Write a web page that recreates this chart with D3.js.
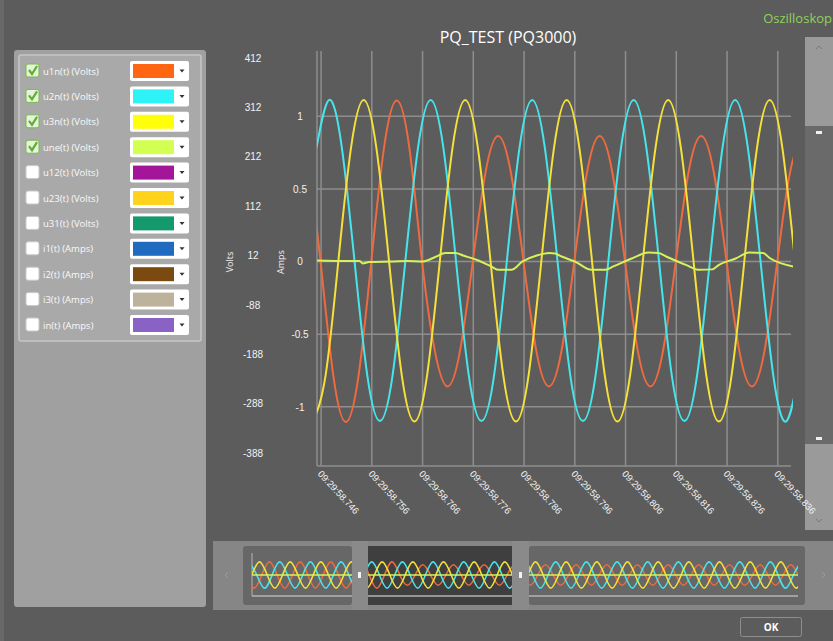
<!DOCTYPE html>
<html>
<head>
<meta charset="utf-8">
<script src="https://cdn.jsdelivr.net/npm/d3@7"></script>
<style>
body { margin: 0; background: #5c5c5c; overflow: hidden }
svg { display: block; font-family: "Open Sans", "Segoe UI", sans-serif }
</style>
</head>
<body>
<svg id="chart" width="833" height="641"></svg>
<script>
// legend entries
let legendNames = ['u1n(t) (Volts)', 'u2n(t) (Volts)', 'u3n(t) (Volts)', 'une(t) (Volts)', 'u12(t) (Volts)',
    'u23(t) (Volts)', 'u31(t) (Volts)', 'i1(t) (Amps)', 'i2(t) (Amps)', 'i3(t) (Amps)', 'in(t) (Amps)']
let legendColors = ['#ff6614', '#2ef3f6', '#ffff0a', '#d3ff52', '#a3169a', '#ffd21c', '#14996c',
    '#1f6bbf', '#7a4a10', '#bdb39c', '#8a62c6']
let legendChecked = [true, true, true, true, false, false, false, false, false, false, false]

// axes
let xTickTimes = [746, 756, 766, 776, 786, 796, 806, 816, 826, 836]
let xTickLabels = ['09:29:58.746', '09:29:58.756', '09:29:58.766', '09:29:58.776', '09:29:58.786',
    '09:29:58.796', '09:29:58.806', '09:29:58.816', '09:29:58.826', '09:29:58.836']
let voltTicks = [412, 312, 212, 112, 12, -88, -188, -288, -388]
let ampTicks = [1, 0.5, 0, -0.5, -1]

// samples (ms after 09:29:58, volts), one every 2.5 ms
let sampleStep = 2.5
let u1nStart = 743.4
let u1nValues = [230, 0, -230, -325, -230, 0, 230, 326, 230, 0,
    -180, -253, -180, 0, 180, 254, 180, 0, -180, -253,
    -180, 0, 180, 254, 180, 0, -180, -253, -180, 0,
    180, 254, 180, 0, -180, -253, -180, 0, 180, 254]
let u2nStart = 745.1
let u2nValues = [230, 327, 230, 0, -230, -323, -230, 0,
    230, 327, 230, 0, -230, -323, -230, 0,
    230, 327, 230, 0, -230, -323, -230, 0,
    230, 327, 230, 0, -230, -323, -230, 0,
    230, 327, 230, 0, -230, -324, -230]
let u3nStart = 744.4
let u3nValues = [-324, -230, 0, 230, 327, 230, 0, -230,
    -324, -230, 0, 230, 327, 230, 0, -230,
    -324, -230, 0, 230, 327, 230, 0, -230,
    -324, -230, 0, 230, 327, 230, 0, -230,
    -324, -230, 0, 230, 327, 230, 0]
let uneTimes = [745, 750, 753.6, 754.2, 755.5, 760, 763, 766, 768.5, 770.5, 772.5, 774, 777, 779.5,
    781, 783.5, 785.7, 788.5, 791, 792.1, 793.4, 796, 799.3, 801.9, 803.6, 807.2, 810.5, 812.5, 814,
    817.9, 820.5, 823.1, 824.4, 827.7, 830.4, 833.1, 834.4, 839.5]
let uneValues = [2, 1, 1, -4, -1, 0, 1, 0, 9, 17, 17, 12, 2, -10,
    -17, -17, 0, 12, 17, 16, 10, 0, -17, -17, -10, 6, 18, 17, 10,
    -7, -17, -16, -7, 6, 18, 17, 7, -11]

// overview record, one sample every 5 ms
let ovStep = 5
let ovDomain = [669.5, 1025.6]
let u1nOvStart = 665.9
let u1nOvValues = [0, -325, 0, 325, 0, -325, 0, 325, 0, -325, 0, 325, 0, -325, 0, 325, 0, -325, 0, 325,
    0, -254, 0, 254, 0, -254, 0, 254, 0, -254, 0, 254, 0, -254, 0, 254, 0, -254, 0, 254,
    0, -254, 0, 254, 0, -254, 0, 254, 0, -254, 0, 254, 0, -254, 0, 254, 0, -254, 0, 254,
    0, -254, 0, 254, 0, -254, 0, 254, 0, -254, 0, 254, 0, -254]
let u2nOvStart = 667.6
let u2nOvValues = [325, 0, -325, 0, 325, 0, -325, 0, 325, 0, -325, 0, 325, 0, -325, 0, 325, 0, -325, 0,
    325, 0, -325, 0, 325, 0, -325, 0, 325, 0, -325, 0, 325, 0, -325, 0, 325, 0, -325, 0,
    325, 0, -325, 0, 325, 0, -325, 0, 325, 0, -325, 0, 325, 0, -325, 0, 325, 0, -325, 0,
    325, 0, -325, 0, 325, 0, -325, 0, 325, 0, -325, 0, 325]
let u3nOvStart = 669.4
let u3nOvValues = [0, 325, 0, -325, 0, 325, 0, -325, 0, 325, 0, -325, 0, 325, 0, -325, 0, 325, 0, -325,
    0, 325, 0, -325, 0, 325, 0, -325, 0, 325, 0, -325, 0, 325, 0, -325, 0, 325, 0, -325,
    0, 325, 0, -325, 0, 325, 0, -325, 0, 325, 0, -325, 0, 325, 0, -325, 0, 325, 0, -325,
    0, 325, 0, -325, 0, 325, 0, -325, 0, 325, 0, -325, 0]
let uneOvTimes = [669.5, 766, 1025.6]
let uneOvValues = [1, 0, 0]

let lineColors = ['#ef6a3e', '#46e5ec', '#f6e03a', '#d4f25a']

function toPoints(start, step, values) {
    return values.map((v, i) => ({ t: start + i * step, v: v }))
}

let svg = d3.select('#chart')

// background
svg.append('rect').attr('width', 833).attr('height', 641).attr('fill', '#5c5c5c')
svg.append('rect').attr('width', 4).attr('height', 641).attr('fill', '#686868')

svg.append('text').attr('x', 508).attr('y', 43).attr('text-anchor', 'middle')
    .attr('font-size', 16).attr('fill', '#ffffff').text('PQ_TEST (PQ3000)')
svg.append('text').attr('x', 832).attr('y', 23).attr('text-anchor', 'end')
    .attr('font-size', 13).attr('fill', '#8fd25a').text('Oszilloskop')

// left panel with legend
svg.append('rect').attr('x', 14).attr('y', 50).attr('width', 192).attr('height', 557)
    .attr('rx', 3).attr('fill', '#a0a0a0')
svg.append('rect').attr('x', 19).attr('y', 55).attr('width', 182).attr('height', 286)
    .attr('rx', 2).attr('fill', '#a9a9a9').attr('stroke', '#c6c6c6').attr('stroke-width', 1.5)

let rows = svg.append('g').selectAll('g.row')
    .data(legendNames)
    .enter().append('g')
    .attr('class', 'row')
    .attr('transform', (d, i) => 'translate(0,' + (71 + i * 25.4) + ')')

rows.append('rect').attr('x', 26).attr('y', -7).attr('width', 13).attr('height', 13).attr('rx', 2)
    .attr('fill', (d, i) => legendChecked[i] ? '#e6f3dc' : '#ffffff')
    .attr('stroke', (d, i) => legendChecked[i] ? '#78b94c' : '#c9c9c9')
rows.filter((d, i) => legendChecked[i]).append('path')
    .attr('d', 'M29,-1 L32,3 L37,-5')
    .attr('fill', 'none').attr('stroke', '#5fae32').attr('stroke-width', 2.2)
rows.append('text').attr('x', 43).attr('y', 3.5).attr('font-size', 9.5).attr('fill', '#fafafa')
    .text(d => d)
rows.append('rect').attr('x', 130).attr('y', -10).attr('width', 59).attr('height', 20).attr('rx', 2)
    .attr('fill', '#ffffff')
rows.append('rect').attr('x', 133).attr('y', -7).attr('width', 41).attr('height', 14)
    .attr('fill', (d, i) => legendColors[i])
rows.append('path').attr('d', 'M179.5,-1.5 L184.5,-1.5 L182,1.5 Z').attr('fill', '#333')

// scales
let x = d3.scaleLinear().domain([745.2, 838.6]).range([317, 791])
let yV = d3.scaleLinear().domain([-414, 424]).range([466, 52])
let yA = d3.scaleLinear().domain([-1.407, 1.442]).range([466, 52])

// grid
let grid = svg.append('g').attr('stroke', '#8e8e8e').attr('stroke-width', 1.5)
grid.append('line').attr('x1', 317).attr('x2', 317).attr('y1', 51).attr('y2', 466)
grid.selectAll('line.v').data(xTickTimes).enter().append('line').attr('class', 'v')
    .attr('x1', d => x(d)).attr('x2', d => x(d)).attr('y1', 51).attr('y2', 466)
grid.selectAll('line.h').data(ampTicks).enter().append('line').attr('class', 'h')
    .attr('x1', 317).attr('x2', 791).attr('y1', d => yA(d)).attr('y2', d => yA(d))
grid.append('line').attr('x1', 317).attr('x2', 791).attr('y1', 466).attr('y2', 466)

// y axes
let voltAxis = svg.append('g').attr('transform', 'translate(253,0)')
    .call(d3.axisLeft(yV).tickValues(voltTicks).tickSize(0).tickPadding(0).tickFormat(d => String(d)))
voltAxis.select('.domain').remove()
voltAxis.selectAll('text').attr('text-anchor', 'middle').attr('fill', '#f2f2f2')
    .attr('font-size', 10).attr('font-family', null)

let ampAxis = svg.append('g').attr('transform', 'translate(300,0)')
    .call(d3.axisLeft(yA).tickValues(ampTicks).tickSize(0).tickPadding(0).tickFormat(d => String(d)))
ampAxis.select('.domain').remove()
ampAxis.selectAll('text').attr('text-anchor', 'middle').attr('fill', '#f2f2f2')
    .attr('font-size', 10).attr('font-family', null)

svg.append('text').attr('transform', 'translate(233,262) rotate(-90)').attr('text-anchor', 'middle')
    .attr('font-size', 9).attr('fill', '#f2f2f2').text('Volts')
svg.append('text').attr('transform', 'translate(284,262) rotate(-90)').attr('text-anchor', 'middle')
    .attr('font-size', 9).attr('fill', '#f2f2f2').text('Amps')

// waveforms
svg.append('clipPath').attr('id', 'plotClip').append('rect')
    .attr('x', 317).attr('y', 40).attr('width', 476).attr('height', 440)

let line = d3.line().x(d => x(d.t)).y(d => yV(d.v)).curve(d3.curveNatural)
let waves = [
    toPoints(u1nStart, sampleStep, u1nValues),
    toPoints(u2nStart, sampleStep, u2nValues),
    toPoints(u3nStart, sampleStep, u3nValues)
]
let waveGroup = svg.append('g').attr('clip-path', 'url(#plotClip)')
waveGroup.selectAll('path.wave').data(waves).enter().append('path')
    .attr('class', 'wave')
    .attr('d', line)
    .attr('fill', 'none')
    .attr('stroke', (d, i) => lineColors[i])
    .attr('stroke-width', 2)
let unePoints = uneTimes.map((t, i) => ({ t: t, v: uneValues[i] }))
waveGroup.append('path')
    .attr('d', d3.line().x(d => x(d.t)).y(d => yV(d.v)).curve(d3.curveMonotoneX)(unePoints))
    .attr('fill', 'none').attr('stroke', lineColors[3]).attr('stroke-width', 2)

// right scrollbar
svg.append('rect').attr('x', 805).attr('y', 37).attr('width', 28).attr('height', 493).attr('fill', '#9a9a9a')
svg.append('rect').attr('x', 805).attr('y', 126).attr('width', 28).attr('height', 318).attr('fill', '#6a6a6a')
svg.append('rect').attr('x', 816).attr('y', 131).attr('width', 6).attr('height', 3).attr('fill', '#f0f0f0')
svg.append('rect').attr('x', 816).attr('y', 437).attr('width', 6).attr('height', 3).attr('fill', '#f0f0f0')
svg.append('path').attr('d', 'M816,49 L819,46 L822,49').attr('fill', 'none').attr('stroke', '#777')
svg.append('path').attr('d', 'M816,519 L819,522 L822,519').attr('fill', 'none').attr('stroke', '#777')

// x axis labels (drawn over the scrollbar, as in the original)
let xAxis = svg.append('g').attr('transform', 'translate(0,466)')
    .call(d3.axisBottom(x).tickValues(xTickTimes).tickSize(0).tickPadding(0)
        .tickFormat((d, i) => xTickLabels[i]))
xAxis.select('.domain').remove()
xAxis.selectAll('text')
    .attr('text-anchor', 'start').attr('fill', '#f2f2f2').attr('font-size', 9.5).attr('font-family', null)
    .attr('y', 0).attr('dy', '0.35em')
    .attr('transform', 'translate(-2,6) rotate(47)')

// overview navigator
svg.append('rect').attr('x', 213).attr('y', 541).attr('width', 620).attr('height', 69).attr('fill', '#868686')
svg.append('rect').attr('x', 243).attr('y', 546).attr('width', 109).attr('height', 59).attr('rx', 3).attr('fill', '#676767')
svg.append('rect').attr('x', 368).attr('y', 546).attr('width', 144).attr('height', 59).attr('fill', '#3f3f3f')
svg.append('rect').attr('x', 529).attr('y', 546).attr('width', 276).attr('height', 59).attr('rx', 3).attr('fill', '#676767')
svg.append('path').attr('d', 'M228,572 L225,575 L228,578').attr('fill', 'none').attr('stroke', '#9c9c9c')
svg.append('path').attr('d', 'M822,572 L825,575 L822,578').attr('fill', 'none').attr('stroke', '#9c9c9c')

let xOv = d3.scaleLinear().domain(ovDomain).range([252, 798])
let yOv = d3.scaleLinear().domain([-420, 420]).range([592, 558])
svg.append('line').attr('x1', 252).attr('x2', 252).attr('y1', 553).attr('y2', 596)
    .attr('stroke', '#b4b4b4')
svg.append('line').attr('x1', 252).attr('x2', 798).attr('y1', 596).attr('y2', 596)
    .attr('stroke', '#b4b4b4').attr('stroke-width', 1.5)

svg.append('clipPath').attr('id', 'ovClip').append('rect')
    .attr('x', 252).attr('y', 546).attr('width', 546).attr('height', 59)
let ovLine = d3.line().x(d => xOv(d.t)).y(d => yOv(d.v)).curve(d3.curveNatural)
let ovWaves = [
    toPoints(u1nOvStart, ovStep, u1nOvValues),
    toPoints(u2nOvStart, ovStep, u2nOvValues),
    toPoints(u3nOvStart, ovStep, u3nOvValues),
    uneOvTimes.map((t, i) => ({ t: t, v: uneOvValues[i] }))
]
svg.append('g').attr('clip-path', 'url(#ovClip)')
    .selectAll('path').data(ovWaves).enter().append('path')
    .attr('d', ovLine)
    .attr('fill', 'none')
    .attr('stroke', (d, i) => lineColors[i])
    .attr('stroke-width', 1.6)

// range handles
svg.append('rect').attr('x', 352).attr('y', 541).attr('width', 16).attr('height', 69).attr('fill', '#8a8a8a')
svg.append('rect').attr('x', 512).attr('y', 541).attr('width', 17).attr('height', 69).attr('fill', '#8a8a8a')
svg.append('rect').attr('x', 358).attr('y', 572).attr('width', 3).attr('height', 6).attr('fill', '#f4f4f4')
svg.append('rect').attr('x', 519).attr('y', 572).attr('width', 3).attr('height', 6).attr('fill', '#f4f4f4')

// OK button
svg.append('rect').attr('x', 740.5).attr('y', 617.5).attr('width', 61).attr('height', 19).attr('rx', 2)
    .attr('fill', '#5c5c5c').attr('stroke', '#8e8e8e')
svg.append('text').attr('x', 771).attr('y', 631).attr('text-anchor', 'middle')
    .attr('font-size', 10).attr('font-weight', 'bold').attr('fill', '#ffffff').text('OK')
</script>
</body>
</html>
